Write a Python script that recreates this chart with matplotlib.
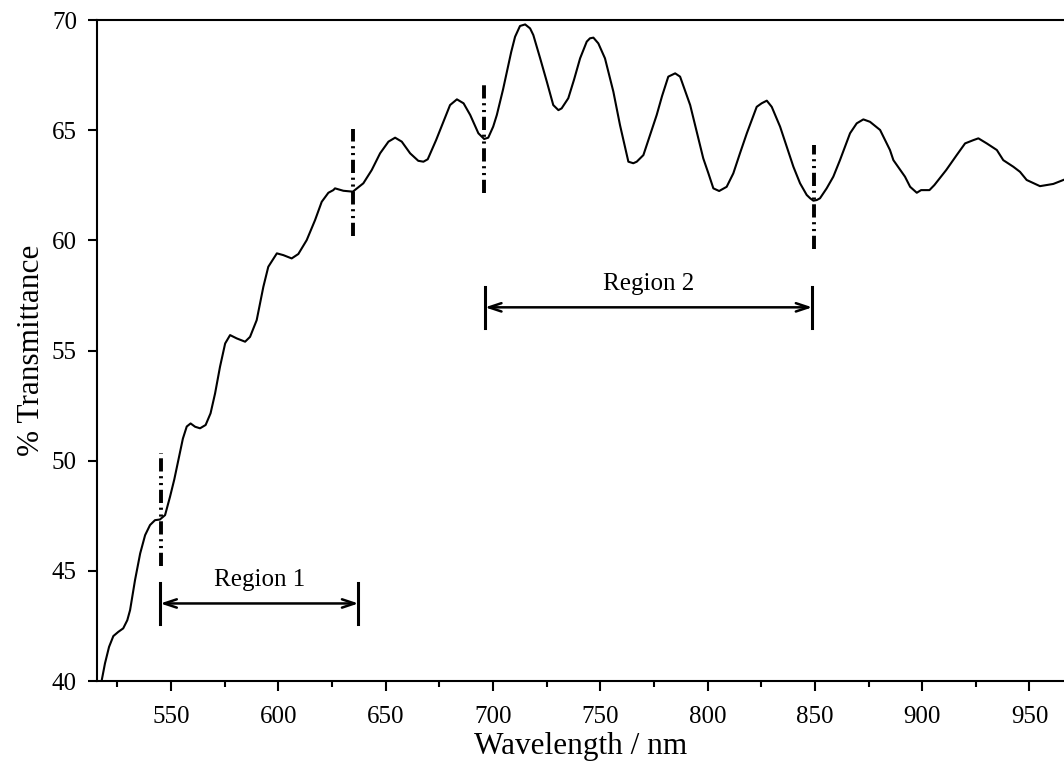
import matplotlib
matplotlib.use("Agg")
import matplotlib.pyplot as plt
from matplotlib.ticker import MultipleLocator

# Transmission spectrum of the film (wavelength in nm, % transmittance)
wavelength = [517.7, 519.2, 521.1, 523.1, 525.4, 527.7, 529.6, 530.9, 533.2, 535.6,
              537.9, 540.2, 542.5, 544.8, 547.2, 549.5, 551.5, 553.8, 555.5, 557.3,
              559.1, 561.2, 563.5, 566.1, 568.4, 570.5, 572.8, 575.2, 577.5, 580.6,
              584.5, 586.8, 589.9, 593.0, 595.3, 599.3, 602.3, 606.2, 609.3, 613.2,
              617.1, 620.2, 623.3, 625.6, 626.4, 630.3, 634.7, 639.6, 643.5, 647.4,
              651.3, 654.4, 657.5, 661.4, 665.2, 667.6, 669.6, 673.5, 676.9, 680.0,
              683.2, 686.3, 689.4, 693.2, 695.9, 697.8, 700.1, 701.8, 704.7, 706.5,
              708.5, 710.3, 712.6, 715.0, 717.3, 718.8, 722.0, 725.1, 728.1, 730.5,
              732.0, 735.1, 737.8, 740.6, 743.7, 745.2, 746.8, 749.1, 752.2, 756.1,
              759.2, 763.1, 765.4, 767.0, 770.1, 773.2, 776.3, 778.8, 781.7, 784.9,
              787.2, 791.9, 794.2, 798.0, 800.4, 802.7, 805.4, 808.9, 812.0, 815.1,
              818.3, 822.9, 825.2, 827.6, 829.9, 833.8, 836.9, 840.0, 843.1, 846.2,
              847.8, 849.3, 850.9, 852.4, 855.5, 858.6, 861.7, 866.4, 869.5, 872.6,
              875.7, 880.4, 885.0, 886.6, 892.0, 894.4, 897.5, 899.5, 903.4, 905.7,
              911.2, 916.1, 920.0, 923.9, 926.2, 930.1, 934.8, 937.8, 942.5, 945.6,
              948.7, 954.9, 958.0, 961.1, 965.8]
transmittance = [40.04, 40.80, 41.55, 42.04, 42.23, 42.39, 42.76, 43.22, 44.58, 45.79,
                 46.62, 47.08, 47.30, 47.33, 47.53, 48.36, 49.15, 50.20, 51.00, 51.55,
                 51.69, 51.54, 51.47, 51.62, 52.15, 53.05, 54.26, 55.32, 55.70, 55.55,
                 55.40, 55.62, 56.38, 57.89, 58.80, 59.41, 59.33, 59.18, 59.38, 60.01,
                 60.92, 61.75, 62.16, 62.28, 62.36, 62.25, 62.21, 62.59, 63.19, 63.95,
                 64.48, 64.66, 64.48, 63.95, 63.61, 63.57, 63.68, 64.55, 65.38, 66.14,
                 66.40, 66.22, 65.69, 64.86, 64.60, 64.66, 65.16, 65.69, 66.85, 67.65,
                 68.55, 69.24, 69.73, 69.80, 69.62, 69.32, 68.26, 67.20, 66.14, 65.91,
                 65.99, 66.45, 67.30, 68.26, 69.02, 69.17, 69.20, 68.94, 68.26, 66.75,
                 65.23, 63.57, 63.50, 63.57, 63.87, 64.78, 65.69, 66.55, 67.43, 67.58,
                 67.43, 66.14, 65.23, 63.72, 63.04, 62.36, 62.24, 62.43, 63.04, 63.95,
                 64.86, 66.06, 66.22, 66.34, 66.06, 65.16, 64.25, 63.34, 62.59, 62.06,
                 61.91, 61.80, 61.83, 61.91, 62.36, 62.89, 63.64, 64.86, 65.31, 65.49,
                 65.38, 65.01, 64.10, 63.64, 62.89, 62.43, 62.16, 62.28, 62.28, 62.51,
                 63.19, 63.87, 64.40, 64.55, 64.63, 64.40, 64.10, 63.64, 63.34, 63.11,
                 62.74, 62.46, 62.51, 62.56, 62.74]

# Vertical markers bounding the two analysis regions: (x, ymin, ymax)
marker_x = [545.2, 634.7, 695.7, 849.8]
marker_lo = [45.2, 60.2, 62.15, 59.6]
marker_hi = [50.35, 65.05, 67.2, 64.35]

# Region brackets: label, start, end, arrow level
region_labels = ["Region 1", "Region 2"]
region_start = [545.0, 696.3]
region_end = [637.3, 848.8]
region_level = [43.52, 56.96]

plt.rcParams['font.family'] = ['Liberation Serif', 'DejaVu Serif']

fig = plt.figure(figsize=(10.64, 7.67), dpi=100)
ax = fig.add_axes([0.0912, 0.1121, 0.9088, 0.8618])

ax.plot(wavelength, transmittance, color='black', lw=1.5, zorder=3)

for x, lo, hi in zip(marker_x, marker_lo, marker_hi):
    ax.plot([x, x], [lo, hi], color='black', lw=2.8,
            linestyle=(0, (3.4, 1.2, 0.55, 1.2, 0.55, 1.2)), zorder=2)

for label, x0, x1, yl in zip(region_labels, region_start, region_end, region_level):
    ax.annotate('', xy=(x0, yl), xytext=(x1, yl),
                arrowprops=dict(arrowstyle='<->,head_length=0.9,head_width=0.3',
                                color='black', lw=1.8, shrinkA=0, shrinkB=0))
    for xb in (x0, x1):
        ax.plot([xb, xb], [yl - 0.95, yl + 0.93], color='black', lw=2.2)
    ax.text((x0 + x1) / 2, yl + 0.55, label, ha='center', va='bottom', fontsize=18)

ax.set_xlim(515.5, 966.1)
ax.set_ylim(40, 70)
ax.xaxis.set_major_locator(MultipleLocator(50))
ax.xaxis.set_minor_locator(MultipleLocator(25))
ax.yaxis.set_major_locator(MultipleLocator(5))

ax.spines['right'].set_visible(False)
for s in ('left', 'top', 'bottom'):
    ax.spines[s].set_linewidth(1.5)

ax.tick_params(axis='x', which='major', direction='out', length=7, width=1.5,
               labelsize=18, pad=11)
ax.tick_params(axis='x', which='minor', direction='out', length=4.5, width=1.5)
ax.tick_params(axis='y', which='major', direction='out', length=6.5, width=1.5,
               labelsize=18, pad=8)

ax.set_xlabel('Wavelength / nm', fontsize=22.5, labelpad=3)
ax.set_ylabel('% Transmittance', fontsize=22.5, labelpad=4)

fig.savefig('out.png', dpi=100)
